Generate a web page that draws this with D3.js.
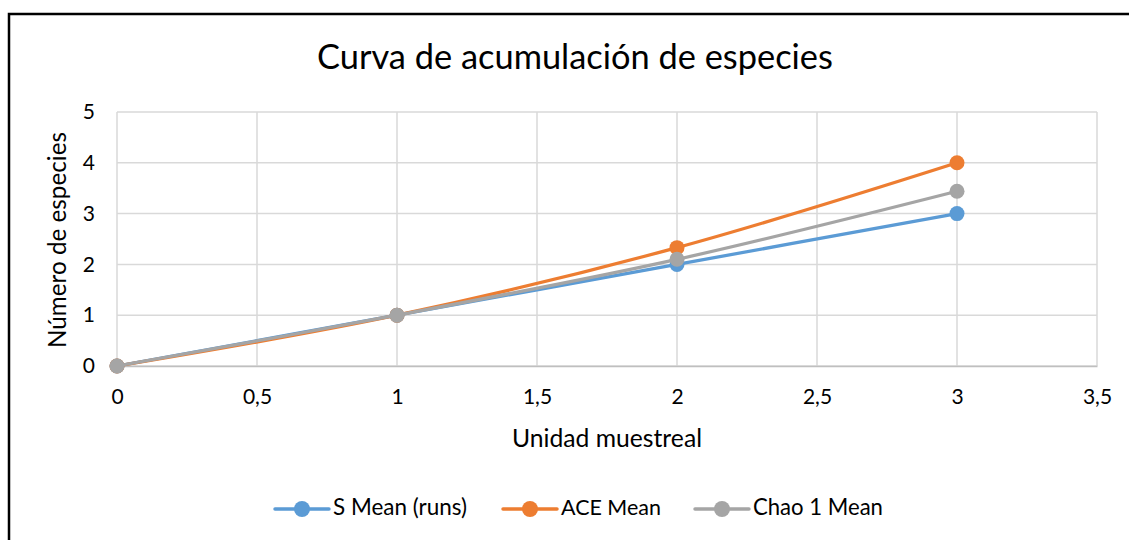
<!DOCTYPE html>
<html>
<head>
<meta charset="utf-8">
<script src="https://cdn.jsdelivr.net/npm/d3@7"></script>
<style>
  html, body { margin: 0; padding: 0; background: #fff; }
  svg { display: block; font-family: Lato, "Open Sans", sans-serif; }
</style>
</head>
<body>
<svg id="chart" width="1129" height="540"></svg>
<script>
// Sampling units (x) and the three richness estimators
const unidades = [0, 1, 2, 3];
const sMean = [0, 1, 2, 3];
const aceMean = [0, 1, 2.33, 4];
const chao1Mean = [0, 1, 2.1, 3.44];

const seriesNames = ["S Mean (runs)", "ACE Mean", "Chao 1 Mean"];
const seriesColors = ["#5B9BD5", "#ED7D31", "#A5A5A5"];
const xTicks = [0, 0.5, 1, 1.5, 2, 2.5, 3, 3.5];
const yTicks = [0, 1, 2, 3, 4, 5];

const series = [sMean, aceMean, chao1Mean].map((vals, i) => ({
  name: seriesNames[i],
  color: seriesColors[i],
  points: unidades.map((u, j) => ({ x: u, y: vals[j] }))
}));

const svg = d3.select("#chart");

// Scale a text element's font size so that it spans the given width
function fitWidth(sel, width) {
  sel.each(function () {
    const base = parseFloat(this.getAttribute("font-size"));
    const w = this.getComputedTextLength();
    if (w > 0) this.setAttribute("font-size", (base * width / w).toFixed(2));
  });
}

// Outer chart frame
svg.append("rect")
  .attr("x", 9).attr("y", 14)
  .attr("width", 1140).attr("height", 560)
  .attr("fill", "none").attr("stroke", "#000").attr("stroke-width", 2.5);

const x = d3.scaleLinear().domain([0, 3.5]).range([117, 1097]);
const y = d3.scaleLinear().domain([0, 5]).range([366, 112]);

const fmt = d => String(d).replace(".", ",");

// Gridlines
const grid = svg.append("g");
grid.selectAll("line.h").data(yTicks).join("line")
  .attr("x1", x(0)).attr("x2", x(3.5))
  .attr("y1", d => y(d)).attr("y2", d => y(d))
  .attr("stroke", "#D9D9D9").attr("stroke-width", 1.5);
grid.selectAll("line.v").data(xTicks).join("line")
  .attr("y1", y(0)).attr("y2", y(5))
  .attr("x1", d => x(d)).attr("x2", d => x(d))
  .attr("stroke", "#D9D9D9").attr("stroke-width", 1.5);

// Axes (labels only, no tick marks)
const xAxis = svg.append("g")
  .attr("transform", `translate(0,${y(0)})`)
  .call(d3.axisBottom(x).tickValues(xTicks).tickFormat(fmt).tickSize(0).tickPadding(23));
xAxis.select(".domain").attr("stroke", "#BFBFBF").attr("stroke-width", 1.5);
xAxis.selectAll("text").attr("font-size", 21).attr("fill", "#000")
  .attr("font-family", "Lato, sans-serif");

const yAxis = svg.append("g")
  .attr("transform", `translate(${x(0)},0)`)
  .call(d3.axisLeft(y).tickValues(yTicks).tickFormat(fmt).tickSize(0).tickPadding(22));
yAxis.select(".domain").remove();
yAxis.selectAll("text").attr("font-size", 21).attr("fill", "#000")
  .attr("font-family", "Lato, sans-serif");

// Titles
svg.append("text")
  .attr("x", 575).attr("y", 69)
  .attr("text-anchor", "middle")
  .attr("font-size", 30).attr("fill", "#000")
  .text("Curva de acumulación de especies")
  .call(fitWidth, 516);

svg.append("text")
  .attr("x", 607).attr("y", 447)
  .attr("text-anchor", "middle")
  .attr("font-size", 20).attr("fill", "#000")
  .text("Unidad muestreal")
  .call(fitWidth, 190);

svg.append("text")
  .attr("transform", `translate(66,240) rotate(-90)`)
  .attr("text-anchor", "middle")
  .attr("font-size", 20).attr("fill", "#000")
  .text("Número de especies")
  .call(fitWidth, 216);

// Smoothed lines and markers
const line = d3.line()
  .x(d => x(d.x)).y(d => y(d.y))
  .curve(d3.curveCatmullRom.alpha(0));

const sg = svg.selectAll("g.series").data(series).join("g").attr("class", "series");
sg.append("path")
  .attr("d", d => line(d.points))
  .attr("fill", "none")
  .attr("stroke", d => d.color)
  .attr("stroke-width", 3.25)
  .attr("stroke-linecap", "round");
sg.selectAll("circle").data(d => d.points.map(p => ({ ...p, color: d.color }))).join("circle")
  .attr("cx", d => x(d.x)).attr("cy", d => y(d.y))
  .attr("r", 7.5)
  .attr("fill", d => d.color);

// Legend
const legendX = [275, 503, 695];
const legendTextW = [134, 100, 130];
const legendY = 509;
const lg = svg.selectAll("g.legend").data(series).join("g").attr("class", "legend")
  .attr("transform", (d, i) => `translate(${legendX[i]},${legendY})`);
lg.append("line")
  .attr("x1", 0).attr("x2", 54).attr("y1", 0).attr("y2", 0)
  .attr("stroke", d => d.color).attr("stroke-width", 3.5)
  .attr("stroke-linecap", "round");
lg.append("circle").attr("cx", 27).attr("cy", 0).attr("r", 8).attr("fill", d => d.color);
lg.append("text")
  .attr("x", 58).attr("y", 6)
  .attr("font-size", 20).attr("fill", "#000")
  .text(d => d.name)
  .each(function (d, i) { fitWidth(d3.select(this), legendTextW[i]); });
</script>
</body>
</html>
